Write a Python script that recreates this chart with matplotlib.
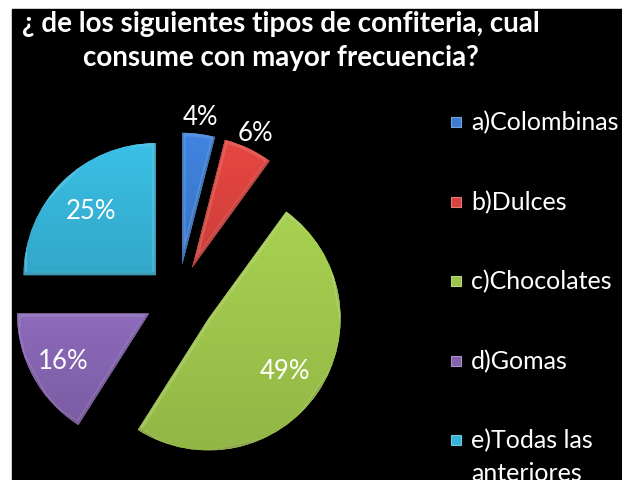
import matplotlib
matplotlib.use("Agg")
import matplotlib.pyplot as plt
from matplotlib.patches import Rectangle
from matplotlib.colors import to_rgb
import numpy as np

# Survey answers
categories = ["a)Colombinas", "b)Dulces", "c)Chocolates", "d)Gomas", "e)Todas las\nanteriores"]
shares = [4, 6, 49, 16, 25]
colors = ["#3C7CD2", "#D9423D", "#9DC44B", "#8463AF", "#36B3D7"]
explode = [0.25, 0.25, 0.28, 0.25, 0.24]
label_dist = [1.13, 1.13, 0.70, 0.74, 0.69]

title = "¿ de los siguientes tipos de confiteria, cual\nconsume con mayor frecuencia?"

W, H = 622, 481
fig = plt.figure(figsize=(W / 100, H / 100), dpi=100, facecolor="white")
fig.patches.append(Rectangle((12 / W, 0), 1 - 12 / W, 1 - 10 / H,
                             transform=fig.transFigure, color="black", zorder=-5))

FONT = "Lato"
R = 132.0                 # pie radius in pixels
cx, cy = 178.0, 298.6     # pie centre, pixels from the top-left corner

ax = fig.add_axes([0, 0, 1, 1])
ax.set_axis_off()
ax.patch.set_alpha(0)
wedges, _ = ax.pie(shares, colors=colors, explode=explode, startangle=90,
                   counterclock=False, radius=1, center=(0, 0),
                   wedgeprops=dict(linewidth=0))


def lighten(c, k):
    r = np.array(to_rgb(c))
    return tuple(r + (1 - r) * k)


def darken(c, k):
    return tuple(np.array(to_rgb(c)) * (1 - k))


# soft bevel: vertical shading plus a light rim and a dark lower rim
for w, c in zip(wedges, colors):
    bb = w.get_path().get_extents(w.get_patch_transform())
    base = np.array(to_rgb(c))
    t = np.linspace(0, 1, 64)[:, None]
    grad = np.clip(base[None, :] * (1.07 - 0.14 * t), 0, 1)[:, None, :]
    im = ax.imshow(grad, extent=(bb.x0, bb.x1, bb.y0, bb.y1), origin="upper",
                   aspect="auto", zorder=w.get_zorder() + 0.1, interpolation="bilinear")
    im.set_clip_path(w)
    outline = w.get_path().transformed(w.get_patch_transform()).vertices
    rim = plt.Polygon(outline, closed=True, fill=False, edgecolor=lighten(c, 0.3),
                      linewidth=5, alpha=0.45, zorder=w.get_zorder() + 0.2)
    ax.add_patch(rim)
    rim.set_clip_path(w)
    shade = plt.Polygon(outline + [0, 0.012], closed=True, fill=False,
                        edgecolor=darken(c, 0.3), linewidth=2, alpha=0.45,
                        zorder=w.get_zorder() + 0.3)
    ax.add_patch(shade)
    shade.set_clip_path(w)

ax.set_xlim(-cx / R, (W - cx) / R)
ax.set_ylim(-(H - cy) / R, cy / R)
ax.set_aspect("equal")

# percentage labels
for w, v, d in zip(wedges, shares, label_dist):
    th = np.deg2rad((w.theta1 + w.theta2) / 2)
    x = w.center[0] + d * w.r * np.cos(th)
    y = w.center[1] + d * w.r * np.sin(th)
    ax.text(x, y, f"{v}%", color="white", fontsize=18.5, family=FONT,
            ha="center", va="center", zorder=10)

# title
for i, line in enumerate(title.split("\n")):
    fig.text(280.5 / W, 1 - (32 + 34 * i) / H, line, color="white",
             fontsize=20, fontweight="bold", family=FONT,
             ha="center", va="baseline")

# legend
ly0, lstep = 123, 79.5
for i, (lab, c) in enumerate(zip(categories, colors)):
    yc = ly0 + lstep * i
    fig.patches.append(Rectangle((451 / W, 1 - (yc + 5) / H), 10 / W, 10 / H,
                                 transform=fig.transFigure, facecolor=c,
                                 edgecolor=lighten(c, 0.3), linewidth=0.8, zorder=2))
    for j, part in enumerate(lab.split("\n")):
        fig.text(471 / W, 1 - (yc + 33 * j) / H, part, color="white",
                 fontsize=18, family=FONT, ha="left", va="center")

fig.savefig("out.png", dpi=100, facecolor="white")
